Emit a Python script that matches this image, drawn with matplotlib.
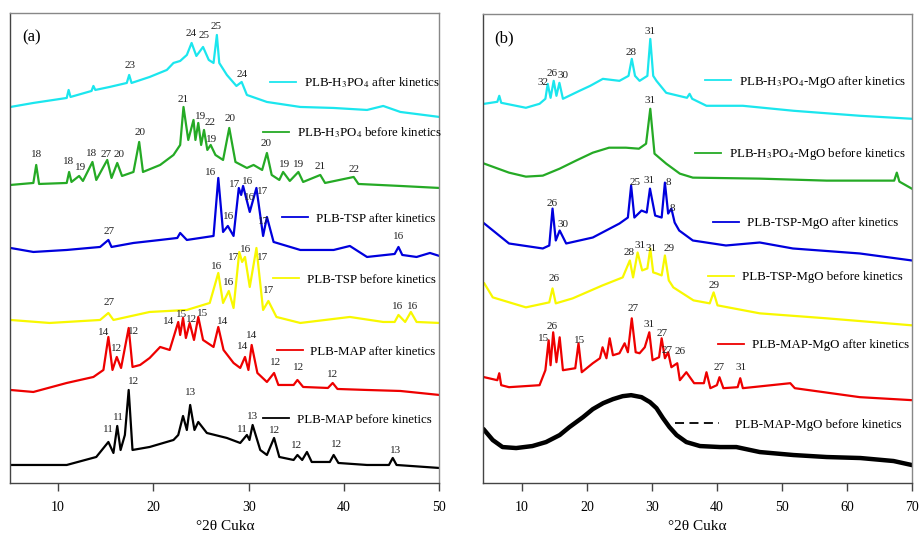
import matplotlib.pyplot as plt
from matplotlib.lines import Line2D
from matplotlib.legend import Legend

plt.rcParams['font.family'] = ['Liberation Serif', 'DejaVu Serif']
plt.rcParams['mathtext.fontset'] = 'stix'

# ---------------- panel (a): 2theta (deg) and stacked intensity (a.u.)
a_cyan_x = [5.0, 7.4, 10.9, 11.1, 11.3, 13.5, 13.7, 13.9, 15.4, 17.2, 17.45, 17.7, 19.6, 21.4, 22.1, 22.8, 23.5, 24.0,
            24.5, 25.2, 25.8, 26.3, 26.65, 26.9, 27.7, 28.7, 29.25, 29.8, 31.9, 35.4, 38.9, 42.4, 44.1, 45.9, 50.0]
a_cyan_y = [376, 380, 385, 393, 386, 392, 397, 393, 396, 400, 408, 400, 406, 413, 420, 422, 428, 440,
            427, 436, 423, 420, 448, 420, 408, 397, 401, 388, 381, 376, 375, 373, 377, 371, 366]

a_green_x = [5.0, 7.4, 7.7, 8.0, 10.9, 11.15, 11.4, 12.2, 12.6, 13.6, 14.0, 15.15, 15.6, 16.2, 16.7, 17.9, 18.5,
             18.9, 20.7, 22.1, 22.8, 23.15, 23.65, 24.2, 24.4, 24.7, 25.0, 25.3, 25.65, 26.0, 26.5, 27.3, 27.95,
             28.6, 29.8, 30.5, 31.4, 31.9, 32.4, 33.2, 33.6, 34.3, 35.2, 35.7, 37.5, 38.0, 41.0, 41.5, 45.9, 50.0]
a_green_y = [298, 300, 318, 299, 300, 311, 301, 307, 302, 321, 303, 323, 305, 320, 307, 311, 341,
             311, 318, 328, 338, 376, 343, 363, 343, 360, 338, 353, 333, 338, 328, 323, 355,
             321, 315, 318, 313, 330, 308, 303, 311, 302, 311, 301, 308, 300, 306, 299, 297, 295]

a_blue_x = [5.0, 7.4, 10.9, 14.4, 15.27, 15.6, 17.9, 20.7, 22.5, 22.8, 23.5, 24.9, 26.3, 26.8, 27.3, 27.8, 28.4,
            28.95, 29.2, 29.4, 30.1, 30.8, 31.5, 31.9, 32.6, 35.4, 38.9, 40.6, 42.4, 45.3, 45.7, 46.1, 47.6, 49.0, 50.0]
a_blue_y = [235, 231, 233, 236, 243, 236, 240, 243, 245, 250, 243, 245, 247, 305, 251, 257, 247,
            295, 288, 297, 271, 295, 247, 266, 241, 233, 233, 237, 226, 229, 236, 228, 226, 230, 227]

a_yellow_x = [5.0, 9.1, 14.4, 15.27, 15.8, 19.6, 23.5, 25.9, 26.8, 27.3, 27.9, 28.4, 29.0, 29.3, 29.6, 30.1, 30.8,
              31.5, 32.05, 32.9, 35.4, 40.6, 44.1, 45.3, 45.7, 46.4, 47.0, 47.6, 50.0]
a_yellow_y = [163, 160, 163, 170, 163, 171, 173, 180, 210, 180, 192, 175, 231, 221, 226, 196, 235,
              173, 182, 166, 160, 166, 161, 161, 168, 161, 171, 161, 160]

a_red_x = [5.0, 7.4, 10.9, 13.7, 14.75, 15.27, 15.7, 16.15, 16.6, 17.4, 17.8, 18.6, 19.6, 20.7, 21.7, 22.6, 22.8,
           23.1, 23.4, 23.8, 24.25, 24.7, 25.2, 26.3, 26.8, 27.35, 28.4, 29.1, 29.6, 29.96, 30.3, 30.9, 31.9, 32.65,
           33.1, 34.7, 35.1, 35.7, 38.3, 38.8, 39.3, 42.4, 45.9, 50.0]
a_red_y = [93, 91, 100, 106, 113, 146, 113, 126, 115, 155, 116, 118, 125, 136, 133, 161, 148,
           165, 145, 160, 143, 166, 143, 136, 156, 133, 120, 115, 126, 113, 138, 110, 101, 110,
           98, 98, 103, 96, 95, 100, 94, 93, 92, 88]

a_black_x = [5.0, 10.9, 14.0, 15.27, 15.8, 16.2, 16.55, 17.0, 17.4, 17.8, 19.6, 22.1, 22.6, 23.1, 23.5, 23.85, 24.3,
             24.7, 25.6, 27.7, 29.1, 29.8, 30.07, 30.4, 31.2, 31.9, 32.65, 33.2, 34.7, 35.1, 35.6, 36.1, 36.6, 38.5,
             38.9, 39.4, 42.4, 44.7, 45.1, 45.5, 50.0]
a_black_y = [18, 18, 26, 41, 30, 57, 33, 48, 93, 33, 36, 43, 48, 67, 53, 78, 53,
             61, 50, 45, 40, 48, 43, 58, 33, 28, 45, 26, 23, 28, 23, 31, 21, 21,
             28, 20, 18, 18, 25, 18, 15]

a_names = ['PLB-H$_3$PO$_4$ after kinetics', 'PLB-H$_3$PO$_4$ before kinetics', 'PLB-TSP after kinetics',
           'PLB-TSP before kinetics', 'PLB-MAP after kinetics', 'PLB-MAP before kinetics']

a_peak_x = [17.5, 23.9, 25.3, 26.6, 29.3,
            7.7, 11.1, 12.3, 13.5, 15.0, 16.4, 18.6, 23.1, 24.9, 25.9, 26.1, 28.0, 31.8, 33.8, 35.2, 37.5, 41.0,
            26.0, 28.5, 29.85, 30.1, 31.5, 27.9, 31.6, 15.3, 45.7,
            26.6, 27.9, 28.4, 29.7, 31.5, 32.05, 15.4, 45.6, 47.2,
            14.75, 16.1, 17.9, 21.6, 22.9, 24.0, 25.1, 27.3, 29.3, 30.3, 32.8, 35.2, 38.8,
            17.9, 16.3, 15.3, 23.9, 29.3, 30.4, 32.7, 35.0, 39.2, 45.4]
a_peak_y = [417, 449, 447, 456, 408,
            328, 321, 315, 329, 328, 328, 350, 383, 366, 360, 343, 364, 339, 318, 318, 316, 313,
            310, 298, 301, 285, 291, 266, 261, 251, 246,
            216, 200, 225, 233, 225, 192, 180, 176, 176,
            150, 134, 151, 161, 168, 163, 169, 161, 136, 147, 120, 115, 108,
            101, 65, 53, 90, 53, 66, 52, 37, 38, 32]
a_peak_txt = ['23', '24', '25', '25', '24',
              '18', '18', '19', '18', '27', '20', '20', '21', '19', '22', '19', '20', '20', '19', '19', '21', '22',
              '16', '17', '16', '16', '17', '16', '17', '27', '16',
              '16', '16', '17', '16', '17', '17', '27', '16', '16',
              '14', '12', '12', '14', '15', '12', '15', '14', '14', '14', '12', '12', '12',
              '12', '11', '11', '13', '11', '13', '12', '12', '12', '13']

# ---------------- panel (b)
b_cyan_x = [4.2, 6.2, 6.5, 6.8, 10.6, 12.7, 13.6, 13.96, 14.4, 14.88, 15.3, 15.76, 16.3, 18.85, 20.5, 22.45, 25.0,
            26.4, 26.9, 27.4, 28.1, 29.3, 29.75, 30.2, 30.7, 32.2, 35.4, 35.8, 36.2, 38.4, 44.0, 51.8, 62.0, 70.0]
b_cyan_y = [380, 382, 388, 381, 376, 380, 385, 400, 386, 403, 388, 401, 385, 393, 398, 405, 403,
            408, 425, 408, 403, 408, 445, 408, 403, 391, 386, 390, 385, 378, 378, 373, 368, 365]

b_green_x = [4.2, 8.0, 10.6, 13.2, 15.8, 18.3, 20.9, 23.4, 26.0, 28.0, 29.1, 29.75, 30.4, 32.2, 34.3, 36.3, 46.6,
             56.9, 67.3, 67.7, 68.1, 70.0]
b_green_y = [320, 311, 307, 308, 315, 323, 331, 336, 336, 335, 340, 375, 330, 320, 310, 306, 305,
             303, 303, 311, 302, 295]

b_blue_x = [4.2, 8.0, 13.2, 14.2, 14.7, 15.2, 15.8, 16.8, 20.9, 25.0, 26.3, 26.8, 27.3, 28.4, 29.2, 29.7, 30.5,
            31.5, 32.0, 32.5, 33.0, 33.5, 34.2, 36.3, 41.4, 46.6, 51.7, 62.0, 70.0]
b_blue_y = [260, 240, 235, 238, 275, 243, 253, 240, 246, 260, 266, 298, 266, 273, 271, 295, 268,
            266, 301, 270, 275, 261, 253, 243, 238, 241, 235, 230, 223]

b_yellow_x = [4.2, 5.5, 10.6, 14.2, 14.7, 15.2, 17.8, 22.4, 25.5, 26.6, 27.1, 27.8, 28.5, 29.3, 29.75, 30.2, 30.7,
              31.5, 32.0, 32.6, 33.3, 36.4, 38.9, 39.5, 40.1, 46.6, 56.9, 70.0]
b_yellow_y = [200, 186, 176, 181, 195, 180, 185, 198, 206, 223, 206, 231, 213, 215, 235, 211, 210,
              208, 228, 203, 196, 183, 180, 191, 178, 170, 165, 158]

b_red_x = [4.2, 6.2, 6.5, 6.8, 8.0, 12.7, 13.6, 14.1, 14.4, 14.8, 15.3, 15.8, 16.3, 18.2, 18.7, 19.2, 20.9, 22.0,
           22.4, 23.0, 23.5, 24.0, 25.0, 25.8, 26.3, 26.9, 27.5, 28.1, 28.9, 29.6, 30.1, 31.1, 31.5, 32.0, 32.5,
           33.0, 33.9, 34.3, 35.3, 36.5, 38.0, 38.4, 39.0, 40.0, 40.4, 41.0, 43.2, 43.6, 44.0, 51.3, 52.0, 62.0, 70.0]
b_red_y = [106, 103, 110, 98, 96, 98, 113, 143, 118, 151, 121, 146, 113, 115, 140, 111, 120, 125,
           136, 125, 145, 128, 130, 140, 131, 165, 131, 130, 136, 151, 123, 126, 145, 125, 131,
           116, 120, 103, 111, 100, 100, 111, 95, 98, 106, 95, 96, 105, 95, 100, 95, 86, 83]

b_black_x = [4.2, 5.5, 7.0, 9.1, 11.6, 13.7, 15.8, 17.3, 19.4, 20.9, 22.5, 24.0, 25.5, 26.8, 28.4, 29.7, 30.7,
             31.7, 32.7, 33.8, 35.3, 37.4, 40.5, 43.0, 46.6, 51.8, 56.9, 62.1, 67.2, 70.0]
b_black_y = [53, 43, 36, 35, 37, 41, 48, 56, 66, 74, 80, 84, 87, 88, 86, 81, 75,
             65, 56, 48, 41, 37, 36, 36, 31, 28, 26, 25, 22, 18]

b_names = ['PLB-H$_3$PO$_4$-MgO after kinetics', 'PLB-H$_3$PO$_4$-MgO before kinetics', 'PLB-TSP-MgO after kinetics',
           'PLB-TSP-MgO before kinetics', 'PLB-MAP-MgO after kinetics', 'PLB-MAP-MgO before kinetics']

b_peak_x = [13.2, 14.6, 16.3, 26.8, 29.75,
            29.75,
            14.7, 16.3, 27.4, 29.6, 32.5, 33.1,
            14.9, 26.5, 28.2, 29.9, 32.7, 39.5,
            13.3, 14.7, 18.8, 27.1, 29.5, 31.55, 32.4, 34.3, 40.3, 43.7]
b_peak_y = [401, 410, 408, 431, 452,
            383,
            280, 259, 301, 303, 301, 275,
            205, 231, 238, 235, 235, 198,
            145, 157, 143, 175, 159, 150, 133, 132, 116, 116]
b_peak_txt = ['32', '26', '30', '28', '31',
              '31',
              '26', '30', '25', '31', '8', '8',
              '26', '28', '31', '31', '29', '29',
              '15', '26', '15', '27', '31', '27', '27', '26', '27', '31']

colors = ['#1BE6EE', '#25AA25', '#0000DD', '#F8F800', '#EE0000', 'black']

fig = plt.figure(figsize=(9.19, 5.42), dpi=100)
ax_a = fig.add_axes([0.0114, 0.1089, 0.4668, 0.8672])
ax_b = fig.add_axes([0.5256, 0.1089, 0.4665, 0.8653])

panels = [
    (ax_a, [(a_cyan_x, a_cyan_y), (a_green_x, a_green_y), (a_blue_x, a_blue_y), (a_yellow_x, a_yellow_y),
            (a_red_x, a_red_y), (a_black_x, a_black_y)],
     a_names, a_peak_x, a_peak_y, a_peak_txt, (5, 50), [10, 20, 30, 40, 50], '(a)',
     [(0.605, 0.851), (0.589, 0.745), (0.633, 0.562), (0.612, 0.432), (0.621, 0.279), (0.589, 0.134)]),
    (ax_b, [(b_cyan_x, b_cyan_y), (b_green_x, b_green_y), (b_blue_x, b_blue_y), (b_yellow_x, b_yellow_y),
            (b_red_x, b_red_y), (b_black_x, b_black_y)],
     b_names, b_peak_x, b_peak_y, b_peak_txt, (4, 70), [10, 20, 30, 40, 50, 60, 70], '(b)',
     [(0.518, 0.855), (0.495, 0.701), (0.537, 0.554), (0.525, 0.439), (0.548, 0.294), (0.448, 0.124)]),
]

for ax, series, names, px, py, ptxt, xlim, xticks, tag, legpos in panels:
    for i, (x, y) in enumerate(series):
        lw = 3.2 if (tag == '(b)' and i == 5) else 1.6
        ax.plot(x, y, color=colors[i], lw=lw)
    for x, y, t in zip(px, py, ptxt):
        ax.text(x, y, t, fontsize=8, ha='center', va='center', color='#222222')

    # one little legend per pattern, next to its curve
    for i, (fx, fy) in enumerate(legpos):
        dashed = (tag == '(b)' and i == 5)
        h = Line2D([], [], color=colors[i], lw=1.3, ls=(0, (5, 3)) if dashed else '-')
        leg = Legend(ax, [h], [names[i]], loc='center left', bbox_to_anchor=(fx, fy),
                     frameon=False, fontsize=9.3, borderpad=0, borderaxespad=0,
                     handlelength=3.4 if dashed else 2.0, handletextpad=1.2 if dashed else 0.6)
        ax.add_artist(leg)

    ax.text(0.027, 0.949, tag, transform=ax.transAxes, fontsize=12, va='center', ha='left')
    ax.set_xlim(*xlim)
    ax.set_ylim(0, 470)
    ax.set_xticks(xticks)
    ax.set_yticks([])
    ax.tick_params(axis='x', direction='out', length=6, width=1, pad=7, labelsize=10, color='#444444')
    ax.set_xlabel('°2θ Cukα', fontsize=11, labelpad=4)
    for side in ['left', 'bottom']:
        ax.spines[side].set_color('#444444')
    for side in ['top', 'right']:
        ax.spines[side].set_color('#888888')
    for s in ax.spines.values():
        s.set_linewidth(1.0)

fig.savefig('out.png', dpi=100)
